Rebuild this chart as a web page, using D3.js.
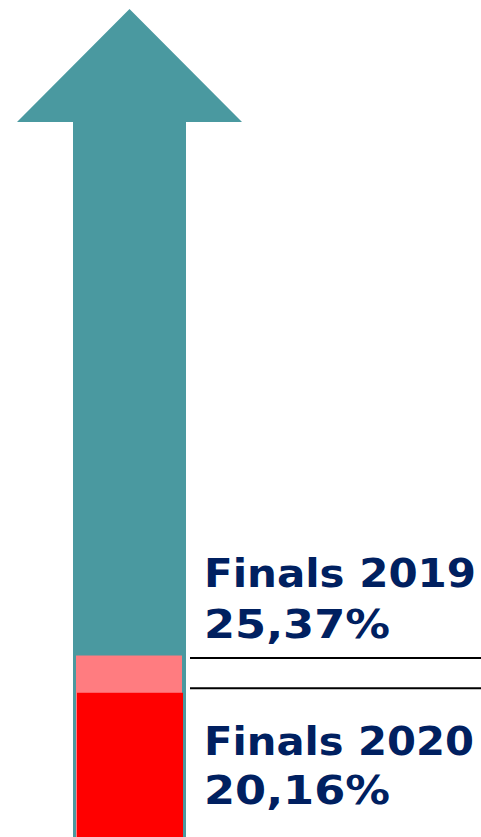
<!DOCTYPE html>
<html>
<head>
<meta charset="utf-8">
<script src="https://cdn.jsdelivr.net/npm/d3@7"></script>
<style>
  html, body { margin: 0; padding: 0; background: #fff; }
  svg { display: block; }
</style>
</head>
<body>
<svg id="chart"></svg>
<script>
// Data
const labels = ["Finals 2019", "Finals 2020"];
const values = [25.37, 20.16];
const valueText = ["25,37%", "20,16%"];
const barColors = ["#FF7C80", "#FF0000"];

const width = 481;
const height = 837;

const svg = d3.select("#chart")
  .attr("width", width)
  .attr("height", height);

// value scale: bottom of page = 0
const y = d3.scaleLinear().domain([0, 117]).range([height, 0]);

// arrow geometry
const shaftX0 = 73, shaftX1 = 186;
const headX0 = 17, headX1 = 242, headY = 122, tipY = 9;
const tipX = (headX0 + headX1) / 2;

const arrow = d3.path();
arrow.moveTo(shaftX0, height);
arrow.lineTo(shaftX0, headY);
arrow.lineTo(headX0, headY);
arrow.lineTo(tipX, tipY);
arrow.lineTo(headX1, headY);
arrow.lineTo(shaftX1, headY);
arrow.lineTo(shaftX1, height);
arrow.closePath();

svg.append("path")
  .attr("d", arrow.toString())
  .attr("fill", "#4A99A0");

// bars inside the shaft
svg.selectAll("rect.bar")
  .data(values)
  .enter().append("rect")
  .attr("class", "bar")
  .attr("x", (d, i) => i === 0 ? 76 : 77)
  .attr("width", 106)
  .attr("y", d => y(d))
  .attr("height", d => height - y(d))
  .attr("fill", (d, i) => barColors[i]);

// separator lines
const lineY = [y(values[0]) + 2.5, y(values[1]) - 4.5];
svg.selectAll("line.sep")
  .data(lineY)
  .enter().append("line")
  .attr("class", "sep")
  .attr("x1", 190).attr("x2", width)
  .attr("y1", d => d).attr("y2", d => d)
  .attr("stroke", "#000")
  .attr("stroke-width", 2);

// labels
const baseY = [587, 755];
const g = svg.selectAll("g.lab")
  .data(labels)
  .enter().append("g")
  .attr("class", "lab");

g.append("text")
  .attr("x", 204)
  .attr("y", (d, i) => baseY[i])
  .attr("textLength", (d, i) => i === 0 ? 272 : 270)
  .text(d => d);

g.append("text")
  .attr("x", 204)
  .attr("y", (d, i) => baseY[i] + (i === 0 ? 50.5 : 48.5))
  .attr("textLength", 186)
  .text((d, i) => valueText[i]);

svg.selectAll("text")
  .attr("lengthAdjust", "spacingAndGlyphs")
  .attr("font-family", "Verdana, 'DejaVu Sans', sans-serif")
  .attr("font-weight", "bold")
  .attr("font-size", 39)
  .attr("fill", "#002060");
</script>
</body>
</html>
